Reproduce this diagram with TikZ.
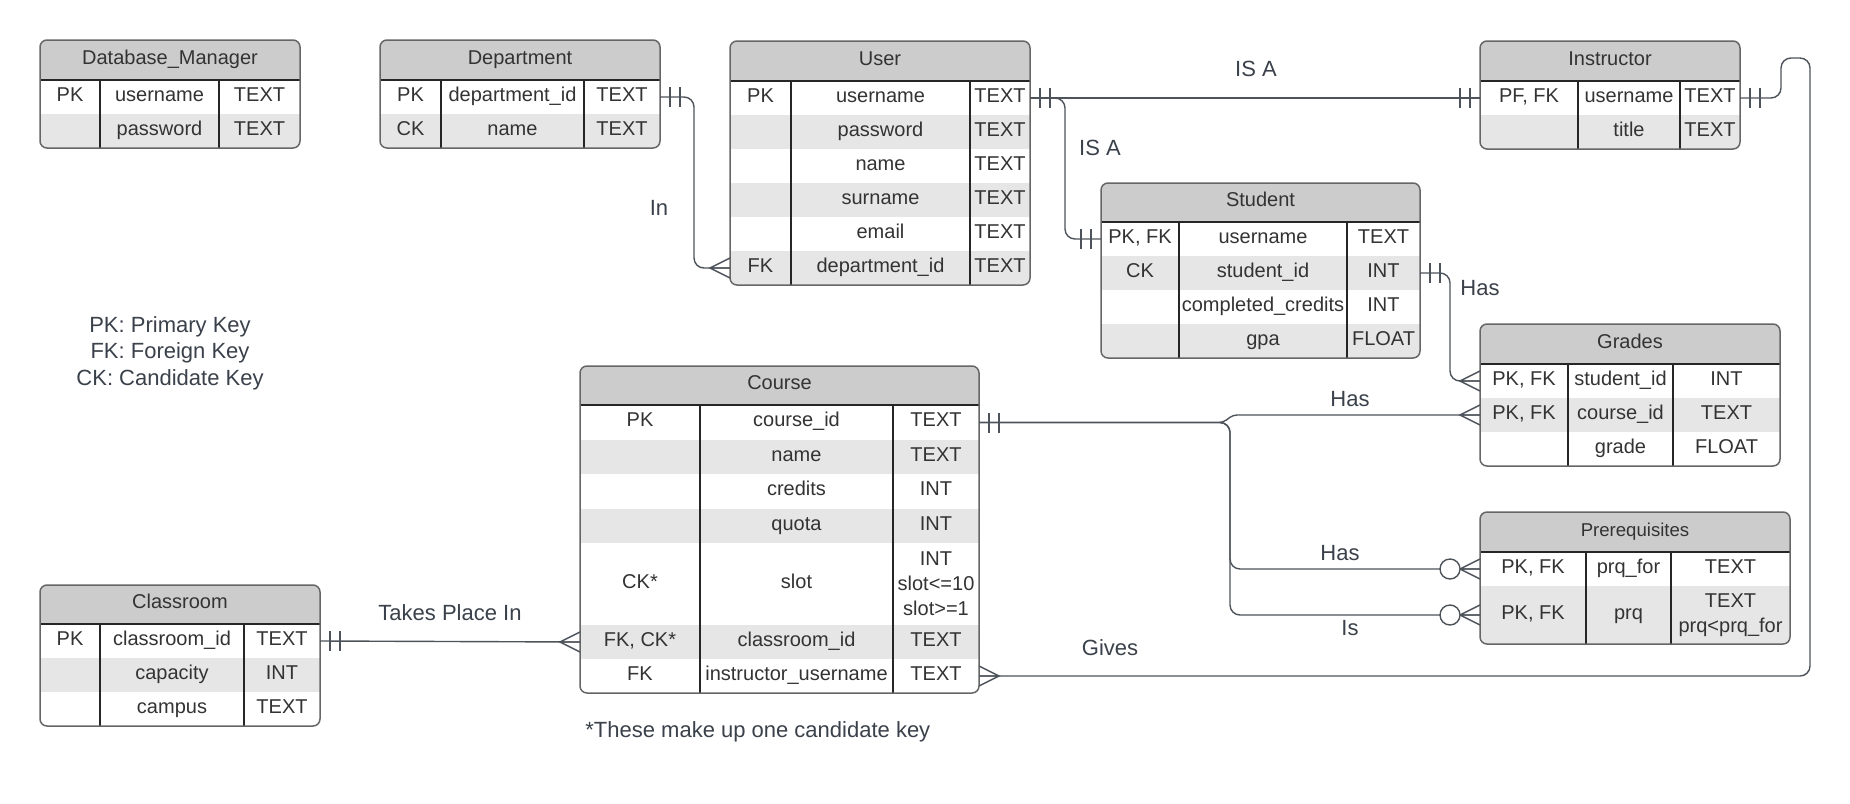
\documentclass[tikz,border=0pt]{standalone}
\usepackage{fontspec}
\setmainfont{Liberation Sans}
\usetikzlibrary{calc}
\definecolor{hdrgray}{HTML}{CCCCCC}
\definecolor{rowgray}{HTML}{E6E6E6}
\definecolor{txtc}{HTML}{333333}
\definecolor{lblc}{HTML}{3A414A}
\definecolor{linec}{HTML}{4D535B}
\definecolor{outc}{HTML}{666666}
\definecolor{colc}{HTML}{262626}
\newcommand\ttlfont{\fontsize{10}{12}\selectfont}
\newcommand\smttlfont{\fontsize{9.3}{11}\selectfont}
\tikzset{
 hdr/.style={fill=hdrgray, draw=none, inner sep=0pt, outer sep=0pt, text=txtc},
 ttl/.style={inner sep=0pt, text=txtc, text height=7.2pt, text depth=0pt, yshift=1.5pt},
 rowbox/.style={draw=none, inner sep=0pt, outer sep=0pt},
 cellm/.style={inner sep=0pt, text=txtc, font=\fontsize{10}{12.5}\selectfont, align=center},
 cell/.style={cellm, text height=7.2pt, text depth=0pt, yshift=1.5pt},
 lbl/.style={inner sep=0pt, text=lblc, font=\fontsize{11}{13.25}\selectfont, align=center},
 conn/.style={draw=linec, line width=0.7pt},
 colline/.style={draw=colc, line width=0.7pt},
 tabline/.style={draw=outc, line width=0.75pt},
 pics/one/.style={code={\draw[conn] (10,-10) -- (10,10) (20,-10) -- (20,10);}},
 pics/many/.style={code={\draw[conn] (0,-10) -- (20,0) -- (0,10) (0,0) -- (20,0);}},
 pics/zmany/.style={code={\draw[conn] (0,-10) -- (20,0) -- (0,10) (0,0) -- (20,0);
   \draw[conn, fill=white] (30,0) circle[radius=5pt];}},
}
% #1 name, #2 L, #3 T, #4 R, #5 B, #6 header bottom, #7 title, #8 title font
\newcommand\tabhead[8]{%
 \def\tL{#2}\def\tT{#3}\def\tR{#4}\def\tB{#5}\def\tH{#6}%
 \begin{scope}
 \clip[rounded corners=3.5pt] (#2,#3) rectangle (#4,#5);
 \fill[white] (#2,#3) rectangle (#4,#5);
 \node[hdr, minimum width={(#4-#2)*0.5pt}, minimum height={(#6-#3)*0.5pt}] (#1) at ({(#2+#4)/2},{(#3+#6)/2}) {};
 \node[ttl, font={#8}] (#1-title) at ({(#2+#4)/2},{(#3+#6)/2}) {#7};
}
% #1 name, #2 top, #3 bottom, #4 fill, #5 key, #6 field, #7 type
\newcommand\tabrow[7]{%
 \node[rowbox, fill=#4, minimum width={(\tR-\tL)*0.5pt}, minimum height={(#3-#2)*0.5pt}] (#1) at ({(\tL+\tR)/2},{(#2+#3)/2}) {};
 \node[cell] (#1-k) at ({(\tL+\tcA)/2},{(#2+#3)/2}) {#5};
 \node[cell] (#1-f) at ({(\tcA+\tcB)/2},{(#2+#3)/2}) {#6};
 \node[cell] (#1-t) at ({(\tcB+\tR)/2},{(#2+#3)/2}) {#7};
}
% same, with a multi-line type cell
\newcommand\tabrowm[7]{%
 \node[rowbox, fill=#4, minimum width={(\tR-\tL)*0.5pt}, minimum height={(#3-#2)*0.5pt}] (#1) at ({(\tL+\tR)/2},{(#2+#3)/2}) {};
 \node[cell] (#1-k) at ({(\tL+\tcA)/2},{(#2+#3)/2}) {#5};
 \node[cell] (#1-f) at ({(\tcA+\tcB)/2},{(#2+#3)/2}) {#6};
 \node[cellm] (#1-t) at ({(\tcB+\tR)/2},{(#2+#3)/2}) {#7};
}
\newcommand\tabend{%
 \end{scope}
 \draw[colline] (\tL,\tH) -- (\tR,\tH) (\tcA,\tH) -- (\tcA,\tB) (\tcB,\tH) -- (\tcB,\tB);
 \draw[tabline, rounded corners=3.5pt] (\tL,\tT) rectangle (\tR,\tB);
}
\begin{document}
\begin{tikzpicture}[x=0.5pt, y=-0.5pt]
\fill[white] (0,0) rectangle (1850,803);
\useasboundingbox (0,0) rectangle (1850,803);

% Database_Manager
\def\tcA{100}\def\tcB{219}
\tabhead{dm}{40}{40}{300}{148}{80}{Database\_Manager}{\ttlfont}
\tabrow{dm-1}{80}{114}{white}{PK}{username}{TEXT}
\tabrow{dm-2}{114}{148}{rowgray}{}{password}{TEXT}
\tabend

% Department
\def\tcA{441}\def\tcB{584}
\tabhead{dep}{380}{40}{660}{148}{80}{Department}{\ttlfont}
\tabrow{dep-1}{80}{114}{white}{PK}{department\_id}{TEXT}
\tabrow{dep-2}{114}{148}{rowgray}{CK}{name}{TEXT}
\tabend

% User
\def\tcA{791}\def\tcB{970}
\tabhead{user}{730}{41}{1030}{285}{81}{User}{\ttlfont}
\tabrow{user-1}{81}{115}{white}{PK}{username}{TEXT}
\tabrow{user-2}{115}{149}{rowgray}{}{password}{TEXT}
\tabrow{user-3}{149}{183}{white}{}{name}{TEXT}
\tabrow{user-4}{183}{217}{rowgray}{}{surname}{TEXT}
\tabrow{user-5}{217}{251}{white}{}{email}{TEXT}
\tabrow{user-6}{251}{285}{rowgray}{FK}{department\_id}{TEXT}
\tabend

% Instructor
\def\tcA{1578}\def\tcB{1680}
\tabhead{ins}{1480}{41}{1740}{149}{81}{Instructor}{\ttlfont}
\tabrow{ins-1}{81}{115}{white}{PF, FK}{username}{TEXT}
\tabrow{ins-2}{115}{149}{rowgray}{}{title}{TEXT}
\tabend

% Student
\def\tcA{1179}\def\tcB{1347}
\tabhead{stu}{1101}{183}{1420}{358}{222}{Student}{\ttlfont}
\tabrow{stu-1}{222}{256}{white}{PK, FK}{username}{TEXT}
\tabrow{stu-2}{256}{290}{rowgray}{CK}{student\_id}{INT}
\tabrow{stu-3}{290}{324}{white}{}{completed\_credits}{INT}
\tabrow{stu-4}{324}{358}{rowgray}{}{gpa}{FLOAT}
\tabend

% Grades
\def\tcA{1568}\def\tcB{1673}
\tabhead{gr}{1480}{324}{1780}{466}{364}{Grades}{\ttlfont}
\tabrow{gr-1}{364}{398}{white}{PK, FK}{student\_id}{INT}
\tabrow{gr-2}{398}{432}{rowgray}{PK, FK}{course\_id}{TEXT}
\tabrow{gr-3}{432}{466}{white}{}{grade}{FLOAT}
\tabend

% Course
\def\tcA{700}\def\tcB{893}
\tabhead{crs}{580}{366}{979}{693}{405}{Course}{\ttlfont}
\tabrow{crs-1}{405}{440}{white}{PK}{course\_id}{TEXT}
\tabrow{crs-2}{440}{474}{rowgray}{}{name}{TEXT}
\tabrow{crs-3}{474}{509}{white}{}{credits}{INT}
\tabrow{crs-4}{509}{543}{rowgray}{}{quota}{INT}
\tabrowm{crs-5}{543}{625}{white}{CK*}{slot}{INT\\slot<=10\\slot>=1}
\tabrow{crs-6}{625}{659}{rowgray}{FK, CK*}{classroom\_id}{TEXT}
\tabrow{crs-7}{659}{693}{white}{FK}{instructor\_username}{TEXT}
\tabend

% Prerequisites
\def\tcA{1586}\def\tcB{1671}
\tabhead{prq}{1480}{512}{1790}{644}{552}{Prerequisites}{\smttlfont}
\tabrow{prq-1}{552}{586}{white}{PK, FK}{prq\_for}{TEXT}
\tabrowm{prq-2}{586}{644}{rowgray}{PK, FK}{prq}{TEXT\\prq<prq\_for}
\tabend

% Classroom
\def\tcA{100}\def\tcB{244}
\tabhead{cls}{40}{585}{320}{726}{624}{Classroom}{\ttlfont}
\tabrow{cls-1}{624}{658}{white}{PK}{classroom\_id}{TEXT}
\tabrow{cls-2}{658}{692}{rowgray}{}{capacity}{INT}
\tabrow{cls-3}{692}{726}{white}{}{campus}{TEXT}
\tabend

% Connectors
\draw[conn, rounded corners=5pt] (dep-1.east) -- ++(34,0) |- (user-6.west);
\draw[conn] (user-1.east) -- (ins-1.west);
\draw[conn, rounded corners=5pt] (user-1.east) -- ++(35,0) |- (stu-1.west);
\draw[conn, rounded corners=5pt] (stu-2.east) -- ++(30,0) |- (gr-1.west);
\draw[conn, rounded corners=2pt] (crs-1.east) -- (1223,0 |- crs-1.east) -- (1233,0 |- gr-2.west) -- (gr-2.west);
\draw[conn, rounded corners=5pt] (crs-1.east) -| (1230,0 |- prq-1.west) -- (prq-1.west);
\draw[conn, rounded corners=5pt] (crs-1.east) -| (1230,0 |- prq-2.west) -- (prq-2.west);
\draw[conn] (cls-1.east) -- (crs-6.west);
\draw[conn, rounded corners=5pt] (ins-1.east) -- ++(41,0) |- (1810,58) |- (crs-7.east);

% End markers
\pic at (dep-1.east) {one};
\pic[rotate=180] at (user-6.west) {many};
\pic at (user-1.east) {one};
\pic[rotate=180] at (ins-1.west) {one};
\pic[rotate=180] at (stu-1.west) {one};
\pic at (stu-2.east) {one};
\pic[rotate=180] at (gr-1.west) {many};
\pic at (crs-1.east) {one};
\pic[rotate=180] at (gr-2.west) {many};
\pic[rotate=180] at (prq-1.west) {zmany};
\pic[rotate=180] at (prq-2.west) {zmany};
\pic at (cls-1.east) {one};
\pic[rotate=180] at (crs-6.west) {many};
\pic at (ins-1.east) {one};
\pic at (crs-7.east) {many};

% Labels
\node[lbl] (l-in) at (659,208) {In};
\node[lbl] (l-isa1) at (1256,69) {IS A};
\node[lbl] (l-isa2) at (1100,148) {IS A};
\node[lbl] (l-has1) at (1480,288) {Has};
\node[lbl] (l-has2) at (1350,399) {Has};
\node[lbl] (l-has3) at (1340,553) {Has};
\node[lbl] (l-is) at (1350,628) {Is};
\node[lbl] (l-gives) at (1110,648) {Gives};
\node[lbl] (l-takes) at (450,613) {Takes Place In};
\node[lbl] (legend) at (170,353) {PK: Primary Key\\FK: Foreign Key\\CK: Candidate Key};
\node[lbl, anchor=west] (note) at (585,732) {*These make up one candidate key};
\end{tikzpicture}
\end{document}
